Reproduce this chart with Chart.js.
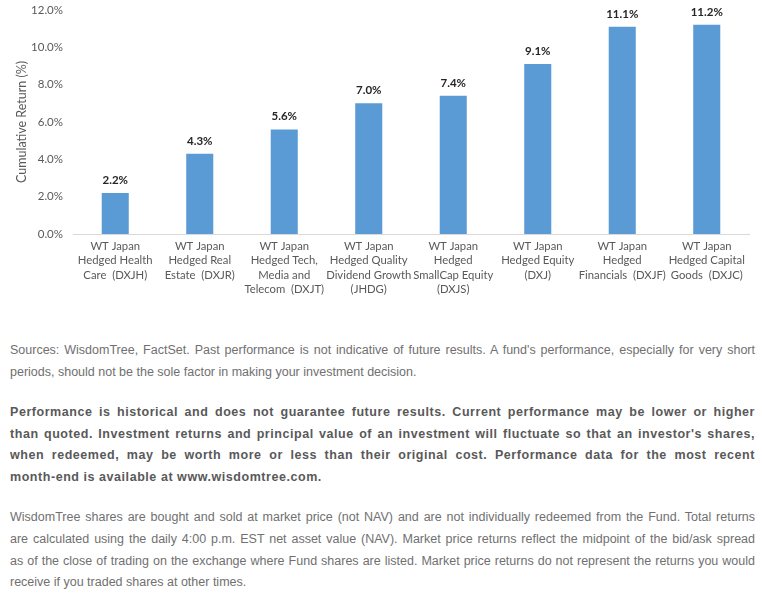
<!DOCTYPE html>
<html>
<head>
<meta charset="utf-8">
<script src="https://cdn.jsdelivr.net/npm/chart.js@4/dist/chart.umd.min.js"></script>
<style>
  html,body{margin:0;padding:0;background:#fff;width:762px;height:595px;overflow:hidden;}
  #wrap{position:absolute;left:0;top:-7px;width:762px;height:312px;}
  #notes{position:absolute;left:10px;top:340px;width:745px;font-family:"Liberation Sans",Arial,sans-serif;font-size:12.5px;line-height:21.6px;color:#707070;}
  #notes .p{margin:0 0 18.9px 0;}
  #notes .l{white-space:nowrap;text-align:justify;text-align-last:justify;height:21.6px;overflow:visible;}
  #notes .l.last{text-align-last:left;}
  #notes .b{font-weight:bold;color:#595959;letter-spacing:0.55px;}
</style>
</head>
<body>
<div id="wrap"><canvas id="c"></canvas></div>
<div id="notes">
<div class="p">
<div class="l">Sources: WisdomTree, FactSet. Past performance is not indicative of future results. A fund's performance, especially for very short</div>
<div class="l last">periods, should not be the sole factor in making your investment decision.</div>
</div>
<div class="p b">
<div class="l">Performance is historical and does not guarantee future results. Current performance may be lower or higher</div>
<div class="l">than quoted. Investment returns and principal value of an investment will fluctuate so that an investor's shares,</div>
<div class="l">when redeemed, may be worth more or less than their original cost. Performance data for the most recent</div>
<div class="l last">month-end is available at www.wisdomtree.com.</div>
</div>
<div class="p">
<div class="l">WisdomTree shares are bought and sold at market price (not NAV) and are not individually redeemed from the Fund. Total returns</div>
<div class="l">are calculated using the daily 4:00 p.m. EST net asset value (NAV). Market price returns reflect the midpoint of the bid/ask spread</div>
<div class="l">as of the close of trading on the exchange where Fund shares are listed. Market price returns do not represent the returns you would</div>
<div class="l last">receive if you traded shares at other times.</div>
</div>
</div>
<script>
const categories = [
  ["WT Japan","Hedged Health","Care  (DXJH)"],
  ["WT Japan","Hedged Real","Estate  (DXJR)"],
  ["WT Japan","Hedged Tech,","Media and","Telecom  (DXJT)"],
  ["WT Japan","Hedged Quality","Dividend Growth","(JHDG)"],
  ["WT Japan","Hedged","SmallCap Equity","(DXJS)"],
  ["WT Japan","Hedged Equity","(DXJ)"],
  ["WT Japan","Hedged","Financials  (DXJF)"],
  ["WT Japan","Hedged Capital","Goods  (DXJC)"]
];
const returnsPct = [2.2, 4.3, 5.6, 7.0, 7.4, 9.1, 11.1, 11.2];
const yTicks = [0, 2, 4, 6, 8, 10, 12];

const FONT = "Lato, 'Open Sans', sans-serif";

const valueLabels = {
  id: 'valueLabels',
  afterDatasetsDraw(chart) {
    const ctx = chart.ctx;
    const meta = chart.getDatasetMeta(0);
    ctx.save();
    ctx.font = "bold 11.5px " + FONT;
    ctx.fillStyle = "#262626";
    ctx.textAlign = "center";
    ctx.textBaseline = "bottom";
    meta.data.forEach((bar, i) => {
      ctx.fillText(returnsPct[i].toFixed(1) + "%", bar.x, bar.y - 7);
    });
    ctx.restore();
  }
};

new Chart(document.getElementById('c'), {
  type: 'bar',
  data: {
    labels: categories,
    datasets: [{
      data: returnsPct,
      backgroundColor: '#5b9bd5',
      borderWidth: 0,
      barPercentage: 0.64,
      categoryPercentage: 0.5
    }]
  },
  options: {
    responsive: true,
    maintainAspectRatio: false,
    animation: false,
    layout: { padding: { left: 14, right: 13, top: 2, bottom: 0 } },
    plugins: { legend: { display: false }, tooltip: { enabled: false } },
    scales: {
      x: {
        grid: { display: false, drawTicks: false },
        border: { display: true, color: '#d9d9d9', width: 1 },
        ticks: {
          color: '#595959',
          font: { family: FONT, size: 11.3, lineHeight: 1.28 },
          maxRotation: 0,
          autoSkip: false,
          padding: 5
        },
        afterFit(scale) { scale.height = 71; }
      },
      y: {
        min: 0,
        max: 12,
        afterBuildTicks(scale) { scale.ticks = yTicks.map(v => ({ value: v })); },
        grid: { display: false, drawTicks: false },
        border: { display: false },
        ticks: {
          color: '#595959',
          font: { family: FONT, size: 11.5 },
          padding: 10,
          callback: v => Number(v).toFixed(1) + '%'
        },
        title: {
          display: true,
          text: 'Cumulative Return (%)',
          color: '#595959',
          font: { family: FONT, size: 12.5 },
          padding: { top: 0, bottom: 4 }
        },
        afterFit(scale) { scale.width = 59; }
      }
    }
  },
  plugins: [valueLabels]
});
</script>
</body>
</html>
